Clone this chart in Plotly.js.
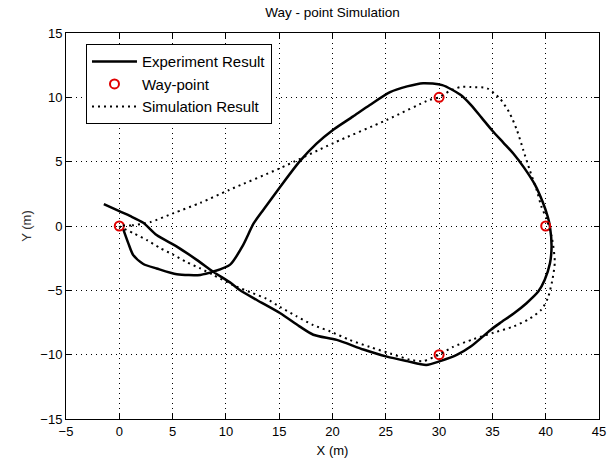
<!DOCTYPE html>
<html>
<head>
<meta charset="utf-8">
<script src="https://cdn.plot.ly/plotly-3.0.1.min.js"></script>
<style>html,body{margin:0;padding:0;background:#fff;}#chart{width:614px;height:462px;}</style>
</head>
<body>
<div id="chart"></div>
<script>
// Experiment result (solid)
var expX = [-1.45, 0.0, 1.0, 2.25, 3.5, 5.4, 7.3, 8.8, 10.5, 11.3, 12.9, 15.1, 16.9, 18.2, 20.4, 22.9, 25.1, 27.0, 28.8, 30.1, 31.7, 33.0, 34.8, 35.7, 37.0, 38.2, 39.3, 39.9, 40.4, 40.55, 40.4, 40.2, 39.7, 39.0, 38.0, 37.0, 36.0, 35.0, 34.0, 33.0, 32.0, 30.3, 28.5, 27.0, 25.4, 23.5, 21.9, 20.1, 18.5, 16.9, 15.1, 13.5, 12.6, 11.6, 10.4, 8.8, 7.6, 5.4, 3.5, 2.25, 1.3, 0.85, 0.35];
var expY = [1.70, 1.15, 0.78, 0.25, -0.7, -1.6, -2.65, -3.55, -4.45, -4.97, -5.75, -6.78, -7.8, -8.45, -8.85, -9.6, -10.15, -10.5, -10.8, -10.5, -10.0, -9.35, -8.1, -7.55, -6.8, -6.0, -5.1, -4.2, -2.9, -1.6, -0.05, 0.7, 1.9, 3.2, 4.5, 5.6, 6.5, 7.4, 8.4, 9.4, 10.2, 10.95, 11.1, 10.85, 10.4, 9.4, 8.5, 7.5, 6.4, 5.0, 3.05, 1.25, 0.2, -1.5, -3.0, -3.55, -3.8, -3.75, -3.3, -2.95, -2.25, -1.35, -0.2];

// Way-points
var wpX = [0, 30, 40, 30];
var wpY = [0, 10, 0, -10];

// Simulation result (dotted)
var simX = [0, 1.2, 2.9, 5.1, 7.6, 10.3, 15.1, 20.1, 25.1, 29.1, 30.0, 31.0, 32.0, 33.0, 34.5, 35.7, 36.6, 37.3, 37.9, 38.5, 39.15, 39.6, 40.1, 40.6, 40.85, 40.6, 40.2, 39.6, 38.5, 37.0, 35.1, 33.2, 31.3, 30.0, 28.5, 27.3, 25.4, 23.5, 21.6, 19.8, 18.2, 16.6, 15.1, 13.8, 12.3, 10.7, 8.8, 7.6, 6.3, 5.1, 3.8, 2.6, 1.3, 0];
var simY = [0, 0.05, 0.3, 1.0, 1.8, 2.8, 4.5, 6.45, 8.25, 9.8, 10.0, 10.5, 10.8, 10.8, 10.7, 9.9, 8.8, 7.45, 5.9, 4.35, 2.8, 1.5, 0.5, -1.0, -2.8, -4.3, -5.6, -6.5, -7.2, -7.8, -8.3, -8.8, -9.4, -10.0, -10.5, -10.4, -9.9, -9.4, -8.85, -8.2, -7.7, -7.0, -6.3, -5.65, -5.15, -4.6, -3.8, -3.3, -2.8, -2.25, -1.7, -1.1, -0.55, 0];

var titleText = 'Way - point Simulation';
var xTitle = 'X (m)';
var yTitle = 'Y (m)';
var names = ['Experiment Result', 'Way-point', 'Simulation Result'];

var FONT = '"Liberation Sans", Arial, Helvetica, sans-serif';

var traces = [
  {x: expX, y: expY, name: names[0], type: 'scatter', mode: 'lines',
   line: {color: '#000', width: 2.5, shape: 'spline', smoothing: 0.7}},
  {x: wpX, y: wpY, name: names[1], type: 'scatter', mode: 'markers',
   marker: {symbol: 'circle-open', color: '#e00000', size: 9, line: {width: 2, color: '#e00000'}}},
  {x: simX, y: simY, name: names[2], type: 'scatter', mode: 'lines',
   line: {color: '#000', width: 2, dash: '2px,4px', shape: 'spline', smoothing: 0.7}}
];

var axisCommon = {
  showline: true, linecolor: '#000', linewidth: 1, mirror: 'ticks',
  ticks: 'inside', ticklen: 5, tickcolor: '#000', tickwidth: 1,
  showgrid: true, gridcolor: '#000', gridwidth: 1, griddash: '1px,4px',
  zeroline: false, dtick: 5, tickfont: {family: FONT, size: 13, color: '#000'}
};

var layout = {
  width: 614, height: 462,
  margin: {l: 66, r: 15, t: 33, b: 43},
  paper_bgcolor: '#fff', plot_bgcolor: '#fff',
  font: {family: FONT, size: 13, color: '#000'},
  title: {text: titleText, font: {family: FONT, size: 13.5, color: '#000'},
          x: 0.5, xref: 'paper', y: 1 - 12/462, yref: 'container', yanchor: 'middle'},
  xaxis: Object.assign({}, axisCommon, {range: [-5, 45], tick0: -5,
          title: {text: xTitle, font: {family: FONT, size: 13, color: '#000'}, standoff: 8}}),
  yaxis: Object.assign({}, axisCommon, {range: [-15, 15], tick0: -15,
          title: {text: yTitle, font: {family: FONT, size: 13, color: '#333'}, standoff: 5}}),
  showlegend: true,
  legend: {x: 0.0375, y: 0.971, xanchor: 'left', yanchor: 'top',
           bgcolor: '#fff', bordercolor: '#000', borderwidth: 1,
           itemwidth: 45,
           font: {family: FONT, size: 15, color: '#000'}}
};

Plotly.newPlot('chart', traces, layout, {displayModeBar: false, staticPlot: true});
</script>
</body>
</html>
